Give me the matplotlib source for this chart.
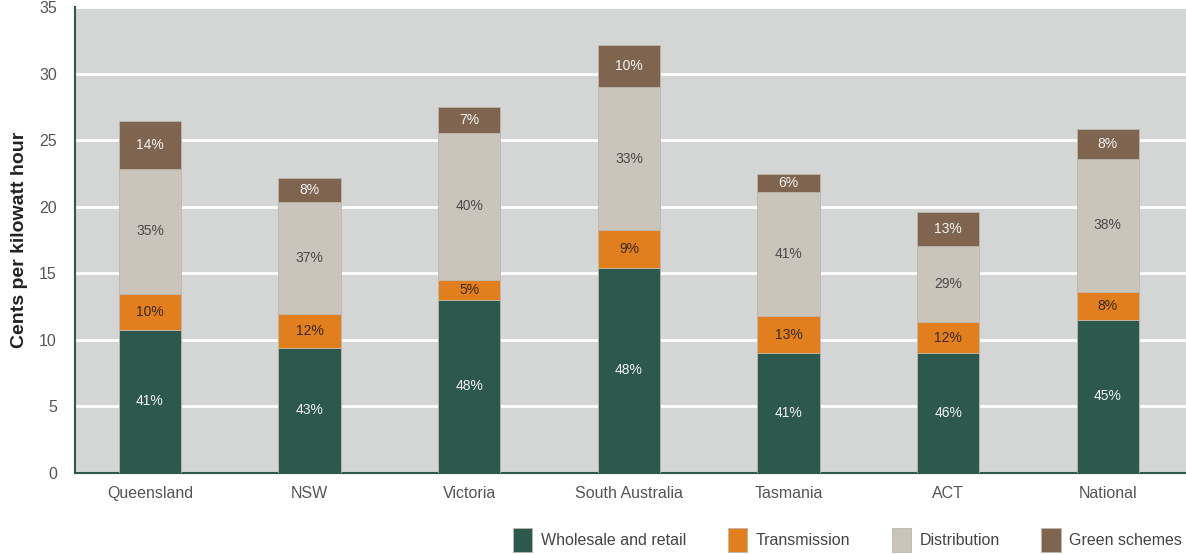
import matplotlib
matplotlib.use('Agg')
import matplotlib.pyplot as plt
import numpy as np

plt.rcParams['font.family'] = ['Liberation Sans', 'DejaVu Sans']

# data (cents per kWh per component)
regions = ['Queensland', 'NSW', 'Victoria', 'South Australia', 'Tasmania', 'ACT', 'National']
wholesale = [10.78, 9.43, 13.03, 15.43, 8.98, 8.98, 11.53]
transmission = [2.70, 2.55, 1.50, 2.85, 2.85, 2.40, 2.07]
distribution = [9.37, 8.37, 11.03, 10.70, 9.25, 5.65, 10.01]
green = [3.63, 1.80, 1.97, 3.15, 1.35, 2.57, 2.25]

wholesale_pct = ['41%', '43%', '48%', '48%', '41%', '46%', '45%']
transmission_pct = ['10%', '12%', '5%', '9%', '13%', '12%', '8%']
distribution_pct = ['35%', '37%', '40%', '33%', '41%', '29%', '38%']
green_pct = ['14%', '8%', '7%', '10%', '6%', '13%', '8%']

series = [
    ('Wholesale and retail', wholesale, wholesale_pct, '#2c584d', '#f2f2f2'),
    ('Transmission', transmission, transmission_pct, '#e17e1e', '#3a2a1a'),
    ('Distribution', distribution, distribution_pct, '#cbc4ba', '#4a4a4a'),
    ('Green schemes', green, green_pct, '#7f6550', '#f2f2f2'),
]

fig = plt.figure(figsize=(11.86, 5.54), dpi=100)
ax = fig.add_axes([0.0632, 0.1462, 0.9368, 0.8408])
ax.set_facecolor('#d3d6d5')

x = np.arange(len(regions))
bottom = np.zeros(len(regions))
handles = []
for name, vals, pcts, col, tcol in series:
    vals = np.array(vals)
    b = ax.bar(x, vals, 0.39, bottom=bottom, color=col, edgecolor='#bdb8ae',
               linewidth=0.6, zorder=3, label=name)
    handles.append(b)
    for xi, v, bt, p in zip(x, vals, bottom, pcts):
        ax.text(xi, bt + v / 2, p, ha='center', va='center', fontsize=10,
                color=tcol, zorder=4)
    bottom += vals

ax.set_xlim(-0.47, 6.49)
ax.set_ylim(0, 35)
ax.set_yticks(range(0, 36, 5))
ax.set_xticks(x)
ax.set_xticklabels(regions)
ax.tick_params(length=0, labelsize=11.5, colors='#555555')
ax.tick_params(axis='x', pad=9)
ax.tick_params(axis='y', pad=13)
ax.yaxis.grid(True, color='white', linewidth=2, zorder=0)
ax.set_axisbelow(True)
for s in ['top', 'right']:
    ax.spines[s].set_visible(False)
for s in ['left', 'bottom']:
    ax.spines[s].set_color('#2c584d')
    ax.spines[s].set_linewidth(1.5)
ax.set_ylabel('Cents per kilowatt hour', fontsize=14, fontweight='bold',
              color='#222222', labelpad=8)

fig.legend(handles=handles, loc='lower right', bbox_to_anchor=(1.009, -0.022), ncol=4,
           frameon=False, fontsize=11.5, handlelength=1.2, handleheight=1.9,
           columnspacing=2.6, handletextpad=0.55, labelcolor='#444444')

fig.savefig('out.png', dpi=100)
